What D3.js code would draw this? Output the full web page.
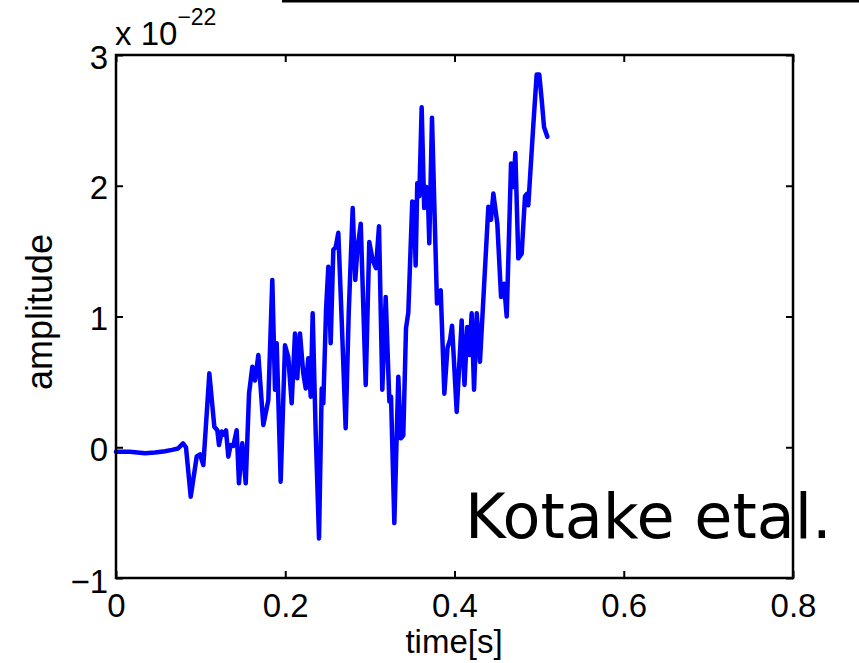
<!DOCTYPE html>
<html>
<head>
<meta charset="utf-8">
<script src="https://cdn.jsdelivr.net/npm/d3@7"></script>
<style>
  body { margin: 0; background: #fff; }
  svg text { font-family: "Liberation Sans", Arial, Helvetica, sans-serif; fill: #000; }
  .axis path.domain { display: none; }
  .axis line { stroke: #000; stroke-width: 2; }
</style>
</head>
<body>
<div id="chart"></div>
<script>
// time [s] and amplitude (in units of 1e-22)
var times = [
  0, 0.0165, 0.0343, 0.0461, 0.0579, 0.0662, 0.0733, 0.0792, 0.0827, 0.0883,
  0.0954, 0.0993, 0.1032, 0.1103, 0.1162, 0.1197, 0.1217, 0.1249, 0.1280, 0.1300,
  0.1327, 0.1355, 0.1386, 0.1426, 0.1453, 0.1492, 0.1533, 0.1572, 0.1611, 0.1643,
  0.1682, 0.1741, 0.1800, 0.1847, 0.1879, 0.1899, 0.1946, 0.1997, 0.2036, 0.2076,
  0.2115, 0.2142, 0.2174, 0.2213, 0.2242, 0.2272, 0.2301, 0.2324, 0.2360, 0.2399,
  0.2431, 0.2450, 0.2482, 0.2509, 0.2537, 0.2568, 0.2596, 0.2627, 0.2667, 0.2714,
  0.2750, 0.2797, 0.2828, 0.2852, 0.2892, 0.2951, 0.2993, 0.3033, 0.3072, 0.3108,
  0.3147, 0.3187, 0.3230, 0.3250, 0.3289, 0.3336, 0.3364, 0.3395, 0.3427, 0.3454,
  0.3501, 0.3521, 0.3541, 0.3560, 0.3584, 0.3612, 0.3642, 0.3667, 0.3683, 0.3702,
  0.3734, 0.3793, 0.3811, 0.3837, 0.3880, 0.3917, 0.3947, 0.3971, 0.4026, 0.4085,
  0.4118, 0.4151, 0.4175, 0.4203, 0.4231, 0.4263, 0.4301, 0.4400, 0.4431, 0.4459,
  0.4506, 0.4550, 0.4585, 0.4617, 0.4668, 0.4695, 0.4719, 0.4754, 0.4794, 0.4833,
  0.4860, 0.4872, 0.4930, 0.4971, 0.5002, 0.5030, 0.5058, 0.5097
];
var amplitude = [
  -0.034, -0.035, -0.045, -0.040, -0.030, -0.020, -0.010, 0.030, 0.000, -0.378,
  -0.070, -0.054, -0.136, 0.565, 0.157, 0.130, 0.017, 0.120, 0.094, 0.130,
  -0.072, 0.017, 0.010, 0.130, -0.276, 0.030, -0.276, 0.410, 0.616, 0.510,
  0.705, 0.170, 0.360, 1.280, 0.440, 0.795, -0.263, 0.780, 0.690, 0.336,
  0.870, 0.527, 0.870, 0.565, 0.450, 0.680, 0.387, 1.024, 0.107, -0.697,
  0.450, 0.336, 1.050, 1.380, 0.795, 1.510, 1.530, 1.640, 0.970, 0.145,
  1.024, 1.830, 1.280, 1.510, 1.710, 0.476, 1.570, 1.430, 1.370, 1.690,
  0.440, 1.150, 0.350, 0.387, -0.580, 0.540, 0.068, 0.090, 0.910, 1.030,
  1.880, 1.870, 1.390, 2.020, 1.920, 2.600, 1.830, 1.990, 1.970, 1.560,
  2.520, 1.100, 1.190, 1.200, 0.410, 0.760, 0.820, 0.930, 0.270, 0.970,
  0.476, 0.920, 0.705, 1.024, 0.440, 1.024, 0.654, 1.840, 1.740, 1.940,
  1.710, 1.150, 1.250, 1.000, 2.170, 1.990, 2.250, 1.445, 1.480, 1.920,
  1.940, 1.850, 2.450, 2.850, 2.850, 2.660, 2.450, 2.375
];
var xTicks = [0, 0.2, 0.4, 0.6, 0.8];
var yTicks = [-1, 0, 1, 2, 3];
var xLabels = ["0", "0.2", "0.4", "0.6", "0.8"];
var yLabels = ["\u22121", "0", "1", "2", "3"];

window.addEventListener('DOMContentLoaded', draw);

function draw() {
  var width = 859, height = 663;
  var mLeft = 116, mRight = 793, mTop = 55, mBottom = 578;

  var svg = d3.select("#chart").append("svg")
    .attr("width", width)
    .attr("height", height);

  var x = d3.scaleLinear().domain([0, 0.8]).range([mLeft, mRight]);
  var y = d3.scaleLinear().domain([-1, 3]).range([mBottom, mTop]);

  // fragment of the figure above
  svg.append("rect")
    .attr("x", 282).attr("y", 0)
    .attr("width", width - 282).attr("height", 2.5)
    .attr("fill", "#000");

  // ticks on all four sides, pointing inwards
  svg.append("g").attr("class", "axis")
    .attr("transform", "translate(0," + mBottom + ")")
    .call(d3.axisBottom(x).tickValues(xTicks).tickSize(-7).tickPadding(16)
      .tickFormat(function(d, i) { return xLabels[i]; }))
    .selectAll("text")
    .attr("font-size", 33)
    .attr("dy", "0.69em");

  svg.append("g").attr("class", "axis")
    .attr("transform", "translate(0," + mTop + ")")
    .call(d3.axisTop(x).tickValues(xTicks).tickSize(-7).tickFormat(""));

  svg.append("g").attr("class", "axis")
    .attr("transform", "translate(" + mLeft + ",0)")
    .call(d3.axisLeft(y).tickValues(yTicks).tickSize(-7).tickPadding(8)
      .tickFormat(function(d, i) { return yLabels[i]; }))
    .selectAll("text")
    .attr("font-size", 33)
    .attr("dy", function(d) { return d === -1 ? "0.45em" : "0.4em"; });

  svg.append("g").attr("class", "axis")
    .attr("transform", "translate(" + mRight + ",0)")
    .call(d3.axisRight(y).tickValues(yTicks).tickSize(-7).tickFormat(""));

  // the line
  var line = d3.line()
    .x(function(d) { return x(d[0]); })
    .y(function(d) { return y(d[1]); });

  svg.append("path")
    .datum(d3.zip(times, amplitude))
    .attr("d", line)
    .attr("fill", "none")
    .attr("stroke", "#0000ff")
    .attr("stroke-width", 4.5)
    .attr("stroke-linejoin", "round")
    .attr("stroke-linecap", "round");

  // box
  svg.append("rect")
    .attr("x", mLeft).attr("y", mTop)
    .attr("width", mRight - mLeft).attr("height", mBottom - mTop)
    .attr("fill", "none")
    .attr("stroke", "#000")
    .attr("stroke-width", 2.5);

  // exponent
  var expo = svg.append("text")
    .attr("x", 115).attr("y", 45)
    .attr("font-size", 33);
  expo.append("tspan").text("x 10");
  expo.append("tspan").attr("dy", -20).attr("font-size", 23).text("\u221222");

  // axis labels
  svg.append("text")
    .attr("x", 454).attr("y", 653)
    .attr("text-anchor", "middle")
    .attr("font-size", 33)
    .text("time[s]");

  svg.append("text")
    .attr("transform", "translate(52,312)rotate(-90)")
    .attr("text-anchor", "middle")
    .attr("font-size", 36)
    .text("amplitude");

  // annotation
  svg.append("text")
    .attr("x", 465).attr("y", 538)
    .attr("font-size", 62)
    .style("font-family", "'DejaVu Sans', Verdana, sans-serif")
    .text("Kotake etal.");
}
</script>
</body>
</html>
